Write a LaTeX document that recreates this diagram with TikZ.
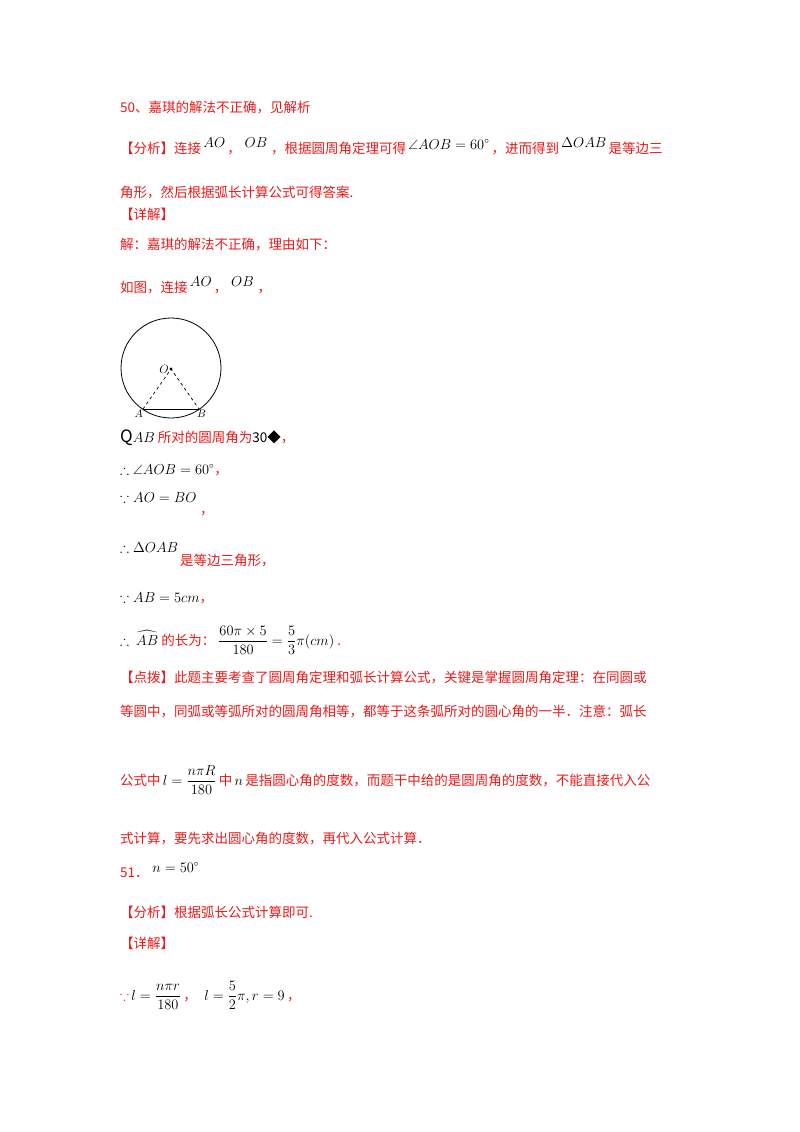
\documentclass[tikz,border=0pt]{standalone}
\usepackage{amsmath,amssymb}
\usepackage{fontspec}
\setmainfont{Noto Sans CJK SC}
\definecolor{rd}{RGB}{235,25,25}
\begin{document}
\begin{tikzpicture}[x=1pt,y=-1pt,
  t/.style={anchor=base west,inner sep=0pt,font=\fontsize{13.5}{16}\selectfont},
  r/.style={t,text=rd}]
\useasboundingbox (0,0) rectangle (800,1132);
\node[r] (l1) at (120,112) {50、嘉琪的解法不正确，见解析};
\node[r] (l2) at (120,153) {【分析】连接\,\raisebox{6pt}{\color{black}$AO$}\,，\;\raisebox{6pt}{\color{black}$OB$}\;，根据圆周角定理可得\,\raisebox{4pt}{\color{black}$\angle AOB=60^\circ$}\,，进而得到\,\raisebox{6pt}{\color{black}$\Delta OAB$}\,是等边三};
\node[r] (l3) at (120,197) {角形，然后根据弧长计算公式可得答案.};
\node[r] (l4) at (120,219) {【详解】};
\node[r] (l5) at (120,249) {解：嘉琪的解法不正确，理由如下：};
\node[r] (l6) at (120,292) {如图，连接\,\raisebox{6pt}{\color{black}$AO$}\,，\;\raisebox{6pt}{\color{black}$OB$}\;，};
% figure
\coordinate (O) at (171,369);
\coordinate (A) at (143,409);
\coordinate (B) at (199,409);
\draw[line width=0.8pt] (171,368) circle (50);
\draw[dashed,line width=0.7pt] (A) -- (O) -- (B);
\draw[line width=0.7pt] (A) -- (B);
\fill (O) circle (1.6);
\node[t,anchor=east,font=\fontsize{12}{12}\selectfont] (lo) at (169,369) {$O$};
\node[t,anchor=north east,font=\fontsize{11}{12}\selectfont] (la) at (143,410) {$A$};
\node[t,anchor=north west,font=\fontsize{11}{12}\selectfont] (lb) at (197,410) {$B$};
\node[t] (l7) at (120,442) {\fontsize{17}{17}\selectfont Q\fontsize{13.5}{16}\selectfont$AB$ \textcolor{rd}{所对的圆周角为}30\textcolor{black}{◆}\textcolor{rd}{，}};
\node[t] (l8) at (120,474) {$\therefore\angle AOB=60^\circ$\textcolor{rd}{，}};
\node[t] (l9) at (120,502) {$\because AO=BO$};
\node[r] (l9b) at (200,514) {，};
\node[t] (l10) at (120,552) {$\therefore\Delta OAB$};
\node[r] (l10b) at (180,565) {是等边三角形，};
\node[t] (l11) at (120,602) {$\because AB=5cm$\textcolor{rd}{，}};
\node[t] (l12) at (120,645) {$\therefore\ \widehat{AB}$\ \textcolor{rd}{的长为：}\ $\dfrac{60\pi\times5}{180}=\dfrac{5}{3}\pi(cm)$\ \textcolor{rd}{.}};
\node[r] (l13) at (120,682) {【点拨】此题主要考查了圆周角定理和弧长计算公式，关键是掌握圆周角定理：在同圆或};
\node[r] (l14) at (120,716) {等圆中，同弧或等弧所对的圆周角相等，都等于这条弧所对的圆心角的一半．注意：弧长};
\node[r] (l15) at (120,785) {公式中\,\textcolor{black}{$l=\dfrac{n\pi R}{180}$}\,中\,\textcolor{black}{$n$}\,是指圆心角的度数，而题干中给的是圆周角的度数，不能直接代入公};
\node[r] (l16) at (120,843) {式计算，要先求出圆心角的度数，再代入公式计算．};
\node[r] (l17) at (120,877) {51．\;\raisebox{5pt}{\color{black}$n=50^\circ$}};
\node[r] (l18) at (120,917) {【分析】根据弧长公式计算即可.};
\node[r] (l19) at (120,948) {【详解】};
\node[t] (l20) at (120,1000) {\textcolor{rd}{$\because$}\,$l=\dfrac{n\pi r}{180}$\,\textcolor{rd}{，}\;\;$l=\dfrac{5}{2}\pi,r=9$\,\textcolor{rd}{，}};
\end{tikzpicture}
\end{document}
